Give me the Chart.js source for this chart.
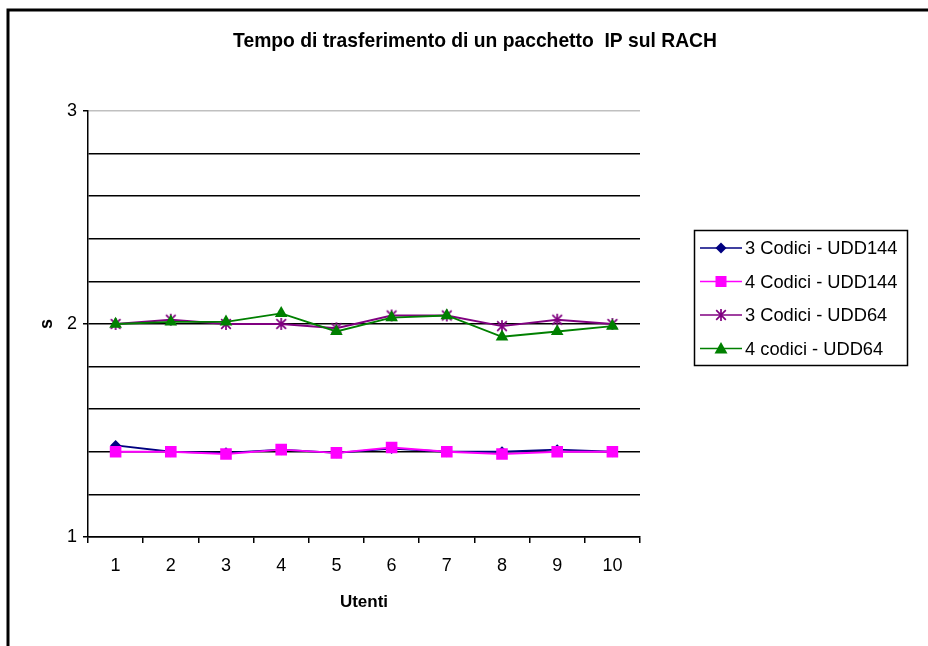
<!DOCTYPE html>
<html><head><meta charset="utf-8">
<script src="https://cdn.jsdelivr.net/npm/chart.js@4/dist/chart.umd.min.js"></script>
<style>html,body{margin:0;padding:0;background:#fff}#wrap{width:928px;height:646px;position:relative}</style>
</head><body><div id="wrap"><canvas id="c" width="928" height="646"></canvas></div>
<script>
const chartTitle = 'Tempo di trasferimento di un pacchetto  IP sul RACH';
const xTitle = 'Utenti';
const yTitle = 's';
const categories = ['1','2','3','4','5','6','7','8','9','10'];
const seriesNames = ['3 Codici - UDD144','4 Codici - UDD144','3 Codici - UDD64','4 codici - UDD64'];
const s3CodiciUDD144 = [1.43, 1.40, 1.395, 1.41, 1.395, 1.415, 1.40, 1.40, 1.41, 1.40];
const s4CodiciUDD144 = [1.40, 1.40, 1.39, 1.41, 1.395, 1.42, 1.40, 1.39, 1.40, 1.40];
const s3CodiciUDD64 = [2.00, 2.02, 2.00, 2.00, 1.98, 2.04, 2.04, 1.99, 2.02, 2.00];
const s4CodiciUDD64 = [2.00, 2.01, 2.01, 2.05, 1.965, 2.03, 2.04, 1.94, 1.965, 1.99];
const yTickLabels = [1, 2, 3];

const FONT = '"Liberation Sans", Arial, sans-serif';
const colors = ['#000080', '#FF00FF', '#800080', '#008000'];

function makeStar(color, size) {
  const c = document.createElement('canvas');
  c.width = size; c.height = size;
  const g = c.getContext('2d');
  g.strokeStyle = color; g.lineWidth = 1.7;
  const m = size / 2, r = size / 2 - 1;
  g.beginPath();
  g.moveTo(m, m - r); g.lineTo(m, m + r);
  g.moveTo(m - r * 0.8, m - r * 0.8); g.lineTo(m + r * 0.8, m + r * 0.8);
  g.moveTo(m + r * 0.8, m - r * 0.8); g.lineTo(m - r * 0.8, m + r * 0.8);
  g.stroke();
  return c;
}
const starImg = makeStar(colors[2], 14);

const isMajor = v => yTickLabels.some(t => Math.abs(t - v) < 1e-6);

const borderPlugin = {
  id: 'frame',
  beforeDraw(chart) {
    const ctx = chart.ctx;
    ctx.save();
    ctx.fillStyle = '#fff';
    ctx.fillRect(0, 0, chart.width, chart.height);
    ctx.strokeStyle = '#000';
    ctx.lineWidth = 3;
    ctx.strokeRect(8, 10, 1200, 1200);
    ctx.fillStyle = '#000';
    ctx.font = 'bold 19.3px ' + FONT;
    ctx.textAlign = 'center';
    ctx.textBaseline = 'middle';
    ctx.fillText(chartTitle, 475, 42);
    ctx.restore();
  },
  afterDraw(chart) {
    const ctx = chart.ctx;
    ctx.save();
    const bx = 694, by = 230, bw = 213, bh = 135;
    ctx.strokeStyle = '#000';
    ctx.lineWidth = 1.5;
    ctx.strokeRect(bx + 0.5, by + 0.5, bw, bh);
    const rows = [248, 281.5, 315, 348.5];
    chart.data.datasets.forEach((ds, i) => {
      const y = rows[i];
      ctx.strokeStyle = ds.borderColor;
      ctx.lineWidth = 1.5;
      ctx.beginPath(); ctx.moveTo(700, y); ctx.lineTo(742, y); ctx.stroke();
      const mx = 721;
      ctx.fillStyle = ds.backgroundColor;
      ctx.beginPath();
      if (i === 0) {
        ctx.moveTo(mx, y - 5.5); ctx.lineTo(mx + 5.5, y); ctx.lineTo(mx, y + 5.5); ctx.lineTo(mx - 5.5, y); ctx.closePath(); ctx.fill();
      } else if (i === 1) {
        ctx.fillRect(mx - 5.5, y - 5.5, 11, 11);
      } else if (i === 2) {
        ctx.drawImage(starImg, mx - 7, y - 7);
      } else {
        ctx.moveTo(mx, y - 6.5); ctx.lineTo(mx + 6.5, y + 5); ctx.lineTo(mx - 6.5, y + 5); ctx.closePath(); ctx.fill();
      }
      ctx.fillStyle = '#000';
      ctx.font = '18.3px ' + FONT;
      ctx.textAlign = 'left';
      ctx.textBaseline = 'middle';
      ctx.fillText(ds.label, 745, y + 1);
    });
    ctx.restore();
  }
};

new Chart(document.getElementById('c'), {
  type: 'line',
  data: {
    labels: categories,
    datasets: [
      { label: seriesNames[0], data: s3CodiciUDD144, borderColor: colors[0], backgroundColor: colors[0], borderWidth: 1.9, pointStyle: 'rectRot', pointRadius: 5.5, pointBorderWidth: 0, order: 4 },
      { label: seriesNames[1], data: s4CodiciUDD144, borderColor: colors[1], backgroundColor: colors[1], borderWidth: 1.9, pointStyle: 'rect', pointRadius: 8.2, pointBorderWidth: 0, order: 3 },
      { label: seriesNames[2], data: s3CodiciUDD64, borderColor: colors[2], backgroundColor: colors[2], borderWidth: 1.9, pointStyle: starImg, pointRadius: 6, order: 2 },
      { label: seriesNames[3], data: s4CodiciUDD64, borderColor: colors[3], backgroundColor: colors[3], borderWidth: 1.9, pointStyle: 'triangle', pointRadius: 7.3, pointBorderWidth: 0, order: 1 }
    ]
  },
  options: {
    responsive: false,
    animation: false,
    devicePixelRatio: 1,
    layout: { padding: { left: 0, right: 288, top: 111, bottom: 0 } },
    plugins: { legend: { display: false }, title: { display: false }, tooltip: { enabled: false } },
    elements: { line: { tension: 0 } },
    scales: {
      x: {
        type: 'category',
        offset: true,
        grid: { offset: true, drawOnChartArea: false, drawTicks: true, tickLength: 6, color: '#000', lineWidth: 1.5 },
        border: { color: '#000', width: 1.5 },
        ticks: { color: '#000', font: { family: FONT, size: 18 }, padding: 12, maxRotation: 0 },
        title: { display: true, text: xTitle, color: '#000', font: { family: FONT, size: 17, weight: 'bold' }, padding: { top: 0, bottom: 33 } },
        afterFit: s => { s.height = 109; }
      },
      y: {
        min: 1, max: 3,
        ticks: { stepSize: 0.2, autoSkip: false, color: '#000', font: { family: FONT, size: 18 }, padding: 6,
          callback: v => isMajor(v) ? String(Math.round(v)) : '' },
        grid: {
          color: c => (c.tick && Math.abs(c.tick.value - 3) < 1e-6) ? '#c0c0c0' : '#000',
          tickColor: c => (c.tick && isMajor(c.tick.value)) ? '#000' : 'rgba(0,0,0,0)',
          lineWidth: 1.5, tickLength: 5
        },
        border: { color: '#000', width: 1.5 },
        title: { display: true, text: yTitle, color: '#000', font: { family: FONT, size: 18, weight: 'bold' }, padding: { top: 36, bottom: 0 } },
        afterFit: s => { s.width = 88; }
      }
    }
  },
  plugins: [borderPlugin]
});
</script>
</body></html>
